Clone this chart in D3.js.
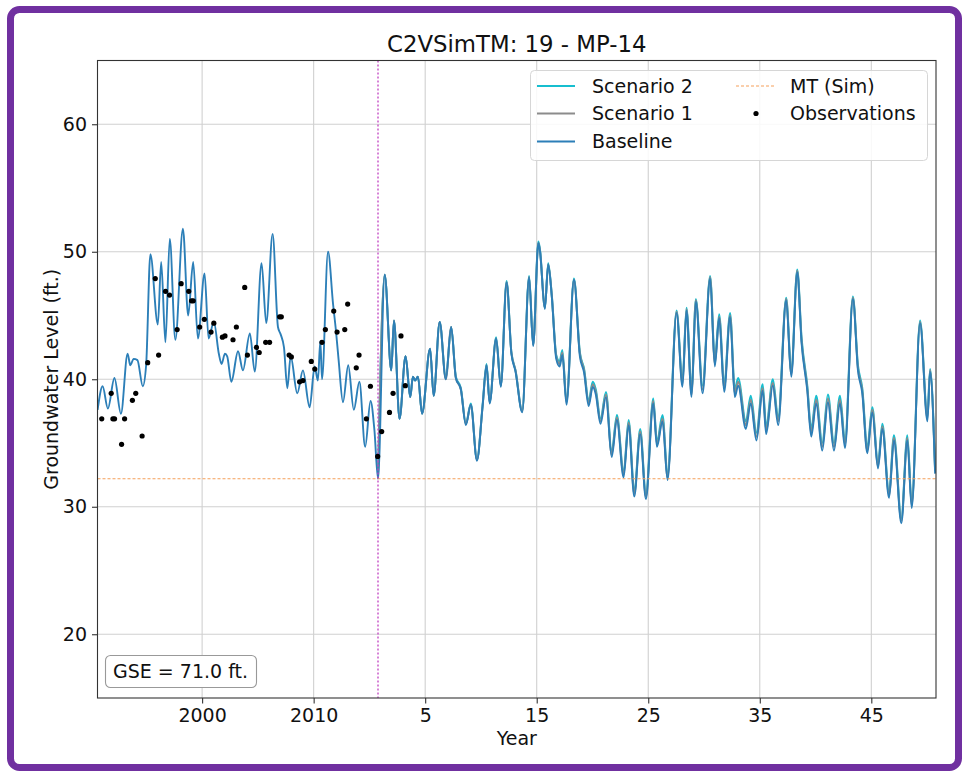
<!DOCTYPE html>
<html><head><meta charset="utf-8">
<script src="https://cdn.jsdelivr.net/npm/d3@7"></script>
<style>body{margin:0;background:#fff} text{font-family:"DejaVu Sans",sans-serif;fill:#111}</style>
</head><body><svg id="c" width="969" height="773"></svg>
<script>
// ---- data ----
const histYears=[1990.63,1991.08,1991.55,1992.14,1992.72,1993.32,1993.56,1993.86,1994.2,1994.68,1994.98,1995.36,1996.03,1996.33,1996.71,1997.1,1997.6,1998.28,1998.75,1999.2,1999.62,2000.22,2000.58,2001.05,2001.5,2001.74,2002.05,2002.25,2002.62,2003.22,2003.66,2004.28,2004.72,2005.33,2005.75,2006.32,2006.8,2007.05,2007.34,2007.64,2007.94,2008.53,2009.04,2009.64,2010.09,2010.38,2010.6,2010.75,2011.29,2011.74,2012.0,2012.24,2012.63,2013.1,2013.6,2014.1,2014.62,2015.1,2015.45];
const histLevels=[37.6,39.45,37.7,40.1,37.3,42.0,41.1,41.6,41.5,39.45,41.1,49.8,44.3,49.2,42.9,51.0,43.1,51.8,45.0,49.2,43.2,48.3,43.2,44.5,42.0,41.2,42.0,41.8,39.8,42.2,40.7,43.6,40.6,49.1,44.4,51.4,44.1,43.5,42.5,39.3,41.8,38.9,40.7,37.8,41.0,39.9,43.0,40.0,50.0,45.9,43.8,41.5,38.2,41.1,37.6,39.8,34.7,38.3,36.0];
const projYears=[2015.77,2016.37,2016.96,2017.2,2017.7,2018.24,2018.66,2018.9,2019.1,2019.35,2019.72,2020.44,2020.76,2021.3,2021.85,2022.33,2022.75,2023.2,2023.65,2024.09,2024.64,2025.15,2025.5,2025.78,2026.36,2026.78,2027.3,2027.73,2028.1,2028.7,2029.32,2029.68,2030.15,2030.3,2030.73,2031.03,2031.35,2031.75,2032.05,2032.3,2032.67,2033.34,2033.87,2034.25,2034.66,2035.02,2035.3,2035.72,2036.21,2036.72,2037.19,2037.79,2038.24,2038.75,2039.28,2039.79,2040.45,2040.78,2041.28,2041.73,2042.54,2043.07,2043.43,2043.88,2044.27,2044.87,2045.55,2045.97,2046.36,2046.81,2047.34,2047.76,2048.06,2048.75,2049.19,2049.7,2050.26,2050.57,2051.17,2051.65,2052.37,2052.82,2053.36,2053.75,2054.26,2054.61,2055.06,2055.6,2056.11,2056.65,2057.19,2057.64,2058.35,2058.8,2059.19,2059.64,2060.09,2060.6,2060.99,2061.59,2062.03,2062.69,2063.23,2063.62,2064.37,2065.03,2065.27,2065.72];
const baseline=[32.2,48.2,40.7,44.6,36.9,41.8,38.6,40.2,39.9,40.2,37.3,42.4,38.7,44.5,40.0,44.1,40.1,39.2,36.4,38.0,33.6,37.9,41.1,38.1,43.2,39.4,47.6,42.0,40.6,37.4,48.0,42.6,50.7,50.0,45.5,49.0,46.5,41.6,41.0,41.9,38.0,47.8,41.8,40.5,37.9,39.4,38.8,36.5,38.6,33.9,36.8,32.3,36.4,30.8,35.7,30.6,38.1,34.7,36.7,32.1,45.2,39.4,45.4,38.6,46.1,38.9,47.9,41.0,44.8,39.0,44.9,38.6,39.5,36.1,38.1,35.2,39.1,35.7,39.5,36.4,46.2,40.2,48.4,42.8,39.1,35.5,38.1,34.4,38.2,34.4,38.1,34.6,46.3,40.7,38.9,34.2,37.4,33.0,36.1,30.7,35.2,28.7,35.2,29.9,44.4,36.7,40.6,32.6];
const scenario1=[32.2,48.2,40.7,44.6,36.9,41.8,38.6,40.2,39.9,40.2,37.3,42.4,38.7,44.5,40.0,44.1,40.1,39.2,36.5,38.0,33.7,37.9,41.1,38.2,43.2,39.5,47.6,42.1,40.7,37.5,48.0,42.7,50.7,50.0,45.6,49.0,46.6,41.8,41.2,42.1,38.2,47.8,42.0,40.7,38.1,39.6,39.0,36.7,38.8,34.1,37.0,32.5,36.6,31.0,35.9,30.8,38.3,34.9,36.9,32.3,45.3,39.6,45.5,38.8,46.2,39.2,48.0,41.2,44.9,39.3,45.0,38.9,39.8,36.4,38.4,35.5,39.3,36.0,39.7,36.7,46.3,40.4,48.5,43.0,39.3,35.8,38.4,34.7,38.5,34.7,38.4,34.9,46.4,40.9,39.1,34.4,37.6,33.2,36.3,30.9,35.4,28.9,35.4,30.1,44.5,36.9,40.7,32.8];
const scenario2=[32.2,48.2,40.7,44.6,36.9,41.8,38.6,40.2,39.9,40.2,37.3,42.4,38.7,44.5,40.1,44.1,40.2,39.3,36.5,38.1,33.7,38.0,41.2,38.2,43.3,39.5,47.7,42.1,40.7,37.5,48.1,42.7,50.8,50.1,45.6,49.1,46.6,41.9,41.4,42.3,38.3,47.9,42.1,40.8,38.3,39.8,39.2,36.9,39.0,34.3,37.2,32.7,36.8,31.2,36.1,31.0,38.5,35.1,37.2,32.5,45.4,39.9,45.6,39.1,46.3,39.5,48.1,41.5,45.1,39.6,45.2,39.2,40.1,36.7,38.7,35.8,39.6,36.3,40.0,37.0,46.4,40.6,48.6,43.2,39.5,36.1,38.7,35.0,38.8,35.0,38.7,35.2,46.5,41.1,39.3,34.7,37.8,33.4,36.5,31.1,35.6,29.1,35.6,30.3,44.6,37.1,40.8,33.0];
const obsYears=[1991.0,1991.85,1992.0,1992.15,1992.78,1993.05,1993.75,1994.05,1994.62,1995.12,1995.8,1996.1,1996.72,1997.08,1997.76,1998.12,1998.8,1999.05,1999.2,1999.78,2000.2,2000.8,2001.05,2001.82,2002.05,2002.77,2003.07,2003.82,2004.06,2004.87,2005.12,2005.7,2006.05,2006.95,2007.1,2007.8,2008.0,2008.74,2009.04,2009.79,2010.1,2010.75,2011.05,2011.8,2012.1,2012.79,2013.05,2013.82,2014.07,2014.73,2015.09,2015.74,2016.1,2016.8,2017.12,2017.83,2018.22];
const obsLevels=[36.9,38.9,36.9,36.9,34.9,36.9,38.35,38.9,35.55,41.3,47.9,41.9,46.9,46.6,43.9,47.5,46.9,46.15,46.15,44.1,44.7,43.7,44.4,43.3,43.4,43.1,44.1,47.2,41.9,42.5,42.1,42.9,42.9,44.9,44.9,41.9,41.75,39.8,39.9,41.4,40.8,42.9,43.9,45.35,43.7,43.9,45.9,40.9,41.9,36.9,39.45,33.95,35.9,37.4,38.9,43.4,39.5];
const mtLevel=32.2;
const projStart=2015.77;
const xTickValues=[2000,2010,2020,2030,2040,2050,2060];
const xTickLabels=["2000","2010","5","15","25","35","45"];
const yTickValues=[20,30,40,50,60];
const title="C2VSimTM: 19 - MP-14";
const gseLabel="GSE = 71.0 ft.";
const seriesNames=["Scenario 2","Scenario 1","Baseline"];
const seriesColors=["#17becf","#8c8c8c","#2c7fb8"];

// ---- drawing ----
const svg=d3.select("#c");
svg.append("rect").attr("x",10.5).attr("y",9.5).attr("width",948).attr("height",758).attr("rx",9)
  .attr("fill","#fff").attr("stroke","#7030a0").attr("stroke-width",7);

const m={l:97.5,r:936,t:60.5,b:698};
const x=d3.scaleLinear().domain([1990.62,2065.8]).range([m.l,m.r]);
const y=d3.scaleLinear().domain([15,65]).range([m.b,m.t]);

svg.append("defs").append("clipPath").attr("id","clip").append("rect")
  .attr("x",m.l).attr("y",m.t).attr("width",m.r-m.l).attr("height",m.b-m.t);

// grid
const grid=svg.append("g").attr("stroke","#d0d0d0").attr("stroke-width",1.1);
xTickValues.forEach(v=>grid.append("line").attr("x1",x(v)).attr("x2",x(v)).attr("y1",m.t).attr("y2",m.b));
yTickValues.forEach(v=>grid.append("line").attr("y1",y(v)).attr("y2",y(v)).attr("x1",m.l).attr("x2",m.r));

// axes
const xAxis=d3.axisBottom(x).tickValues(xTickValues).tickFormat((d,i)=>xTickLabels[i]).tickSize(5.5).tickPadding(5);
const yAxis=d3.axisLeft(y).tickValues(yTickValues).tickFormat(d3.format("d")).tickSize(5.5).tickPadding(5);
const gx=svg.append("g").attr("transform",`translate(0,${m.b})`).call(xAxis);
const gy=svg.append("g").attr("transform",`translate(${m.l},0)`).call(yAxis);
[gx,gy].forEach(g=>{g.select(".domain").remove();g.selectAll("line").attr("stroke","#333").attr("stroke-width",1.1);
  g.selectAll("text").attr("font-size",19).attr("font-family","DejaVu Sans").attr("fill","#111");});

const plot=svg.append("g").attr("clip-path","url(#clip)");
const line=d3.line().x(d=>x(d[0])).y(d=>y(d[1])).curve(d3.curveMonotoneX);

const s2=d3.zip(projYears,scenario2), s1=d3.zip(projYears,scenario1);
const base=d3.zip(histYears.concat(projYears),histLevels.concat(baseline));
plot.append("path").datum(s2).attr("d",line).attr("fill","none").attr("stroke",seriesColors[0]).attr("stroke-width",2);
plot.append("path").datum(s1).attr("d",line).attr("fill","none").attr("stroke",seriesColors[1]).attr("stroke-width",2);
plot.append("path").datum(base).attr("d",line).attr("fill","none").attr("stroke",seriesColors[2]).attr("stroke-width",1.9);

// MT line
plot.append("line").attr("x1",m.l).attr("x2",m.r).attr("y1",y(mtLevel)).attr("y2",y(mtLevel))
  .attr("stroke","#f5a05a").attr("stroke-width",1.1).attr("stroke-dasharray","3,2");
// projection start
plot.append("line").attr("x1",x(projStart)).attr("x2",x(projStart)).attr("y1",m.t).attr("y2",m.b)
  .attr("stroke","#c040c0").attr("stroke-width",1.3).attr("stroke-dasharray","2,2");

// observations
plot.selectAll("circle.obs").data(d3.zip(obsYears,obsLevels)).join("circle").attr("class","obs")
  .attr("cx",d=>x(d[0])).attr("cy",d=>y(d[1])).attr("r",2.6).attr("fill","#000");

// frame spines
svg.append("rect").attr("x",m.l).attr("y",m.t).attr("width",m.r-m.l).attr("height",m.b-m.t)
  .attr("fill","none").attr("stroke","#333").attr("stroke-width",1.1);

// title and labels
svg.append("text").attr("x",(m.l+m.r)/2).attr("y",52).attr("text-anchor","middle").attr("font-size",22.8).text(title);
svg.append("text").attr("x",(m.l+m.r)/2).attr("y",745).attr("text-anchor","middle").attr("font-size",19).text("Year");
svg.append("text").attr("transform",`translate(58,${(m.t+m.b)/2}) rotate(-90)`).attr("text-anchor","middle").attr("font-size",19).text("Groundwater Level (ft.)");

// GSE box
svg.append("rect").attr("x",105.5).attr("y",655.5).attr("width",151).attr("height",32).attr("rx",5)
  .attr("fill","#fff").attr("stroke","#999").attr("stroke-width",1.1);
svg.append("text").attr("x",113).attr("y",678).attr("font-size",19).text(gseLabel);

// legend
const lg=svg.append("g");
lg.append("rect").attr("x",530.5).attr("y",70.5).attr("width",397).attr("height",90).attr("rx",4)
  .attr("fill","#fff").attr("fill-opacity",0.85).attr("stroke","#d6d6d6").attr("stroke-width",1);
const rows=[86,113.5,141.5];
seriesNames.forEach((n,i)=>{
  lg.append("line").attr("x1",537).attr("x2",575).attr("y1",rows[i]).attr("y2",rows[i]).attr("stroke",seriesColors[i]).attr("stroke-width",2);
  lg.append("text").attr("x",592).attr("y",rows[i]+6.5).attr("font-size",19).text(n);
});
lg.append("line").attr("x1",736).attr("x2",774).attr("y1",rows[0]).attr("y2",rows[0]).attr("stroke","#f5a05a").attr("stroke-width",1.1).attr("stroke-dasharray","3,2");
lg.append("text").attr("x",790).attr("y",rows[0]+6.5).attr("font-size",19).text("MT (Sim)");
lg.append("circle").attr("cx",756).attr("cy",rows[1]).attr("r",2.6).attr("fill","#000");
lg.append("text").attr("x",790).attr("y",rows[1]+6.5).attr("font-size",19).text("Observations");
</script></body></html>
